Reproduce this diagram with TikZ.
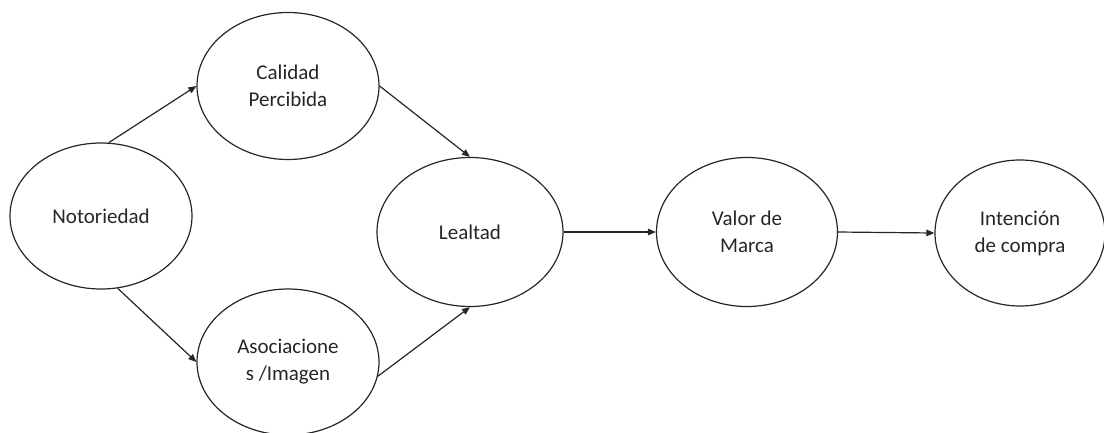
\documentclass[tikz,border=0pt]{standalone}
\usepackage{fontspec}
\setmainfont{Carlito}
\usetikzlibrary{shapes.geometric,arrows.meta}
\begin{document}
\begin{tikzpicture}[x=1pt,y=-1pt,
  bubble/.style={draw=black!85,line width=1.2pt,ellipse,inner sep=0pt,
    align=center,font=\fontsize{21}{27}\selectfont,text=black!85},
  link/.style={draw=black!85,line width=1.2pt,
    -{Triangle[length=8pt,width=6.5pt]}}]
  \useasboundingbox (0,0) rectangle (1104,432);
  % concept bubbles
  \node[bubble,minimum width=182pt,minimum height=146pt] (noto) at (101,216) {Notoriedad};
  \node[bubble,minimum width=182pt,minimum height=147pt] (cal) at (288,86) {Calidad\\Percibida};
  \node[bubble,minimum width=182pt,minimum height=146pt] (asoc) at (288,362) {Asociacione\\s /Imagen};
  \node[bubble,minimum width=186pt,minimum height=149pt] (leal) at (470,232) {Lealtad};
  \node[bubble,minimum width=181pt,minimum height=149pt] (valor) at (747,232) {Valor de\\Marca};
  \node[bubble,minimum width=170pt,minimum height=146pt] (inten) at (1020,233) {Intención\\de compra};
  % causal links
  \draw[link] (noto.84) -- (cal.west);
  \draw[link] (noto.-77) -- (asoc.west);
  \draw[link] (cal.east) -- (leal.north);
  \draw[link] (asoc.-9) -- (leal.south);
  \draw[link] (leal.east) -- (valor.west);
  \draw[link] (valor.east) -- (inten.west);
\end{tikzpicture}
\end{document}
